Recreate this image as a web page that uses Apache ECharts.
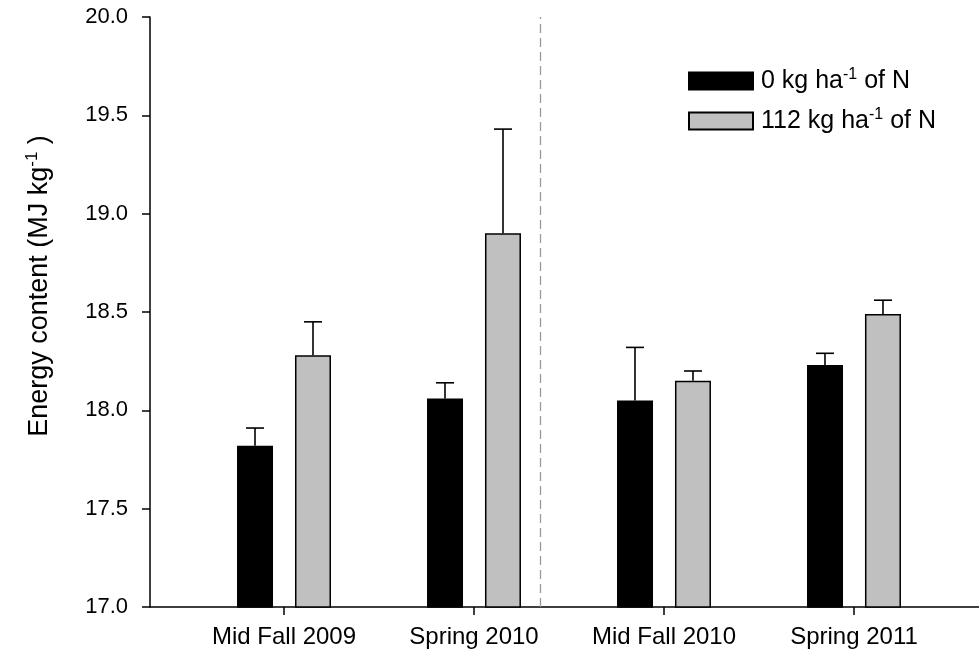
<!DOCTYPE html>
<html>
<head>
<meta charset="utf-8">
<script src="https://cdn.jsdelivr.net/npm/echarts@6/dist/echarts.min.js"></script>
<style>
  html, body { margin: 0; padding: 0; background: #fff; }
  #chart { width: 979px; height: 664px; }
</style>
</head>
<body>
<div id="chart"></div>
<script>
// data
const categories = ['Mid Fall 2009', 'Spring 2010', 'Mid Fall 2010', 'Spring 2011'];
const n0Means = [17.82, 18.06, 18.05, 18.23];
const n0Errors = [0.09, 0.08, 0.27, 0.06];
const n112Means = [18.28, 18.90, 18.15, 18.49];
const n112Errors = [0.17, 0.53, 0.05, 0.07];
const seriesNames = ['0 kg ha-1 of N', '112 kg ha-1 of N'];
const catPositions = [1, 2, 3, 4];
const dividerAt = 2.5;

const font = '"Liberation Sans", Arial, sans-serif';
const barW = 36;
const halfStep = 29; // distance from category centre to each bar centre

var myChart = echarts.init(document.getElementById('chart'));

function barData(vals) {
    return vals.map((v, i) => [catPositions[i], v]);
}
function errData(vals, errs) {
    return vals.map((v, i) => [catPositions[i], v, v + errs[i]]);
}
function errorBar(shift) {
    return function (params, api) {
        const base = api.coord([api.value(0), api.value(1)]);
        const top = api.coord([api.value(0), api.value(2)]);
        const x = base[0] + shift;
        const st = { stroke: '#000', lineWidth: 1.6 };
        return {
            type: 'group',
            children: [
                { type: 'line', shape: { x1: x, y1: base[1], x2: x, y2: top[1] }, style: st },
                { type: 'line', shape: { x1: x - 9, y1: top[1], x2: x + 9, y2: top[1] }, style: st }
            ]
        };
    };
}

const option = {
    animation: false,
    backgroundColor: '#fff',
    grid: { left: 150, right: 0, top: 17, bottom: 57 },
    legend: {
        orient: 'vertical',
        left: 683,
        top: 62,
        itemWidth: 64,
        itemHeight: 17,
        itemGap: 12,
        icon: 'rect',
        data: seriesNames,
        formatter: function (name) {
            return name.replace('ha-1', 'ha{sup|-1}');
        },
        textStyle: {
            fontFamily: font,
            fontSize: 25,
            color: '#000',
            lineHeight: 28,
            padding: [0, 0, 0, 3],
            rich: {
                sup: { fontFamily: font, fontSize: 16, verticalAlign: 'top', lineHeight: 28, padding: [0, 0, 10, 0] }
            }
        }
    },
    xAxis: {
        type: 'value',
        min: 0.2947,
        max: 4.658,
        splitLine: { show: false },
        axisLine: { show: true, lineStyle: { color: '#000', width: 1.5 } },
        axisTick: { show: true, customValues: catPositions, length: 8, lineStyle: { color: '#000', width: 1.5 } },
        axisLabel: {
            customValues: catPositions,
            formatter: v => categories[Math.round(v) - 1],
            fontFamily: font,
            fontSize: 24,
            color: '#000',
            margin: 18
        }
    },
    yAxis: {
        type: 'value',
        min: 17,
        max: 20,
        interval: 0.5,
        splitLine: { show: false },
        axisLine: { show: true, lineStyle: { color: '#000', width: 1.5 } },
        axisTick: { show: true, length: 8, lineStyle: { color: '#000', width: 1.5 } },
        axisLabel: {
            formatter: v => v.toFixed(1),
            fontFamily: font,
            fontSize: 22,
            color: '#000',
            margin: 22
        }
    },
    graphic: [
        {
            type: 'text',
            x: 40,
            y: 286,
            rotation: Math.PI / 2,
            style: {
                text: '{t|Energy content (MJ kg}{s|-1}{t| )}',
                align: 'center',
                verticalAlign: 'middle',
                rich: {
                    t: { fontFamily: font, fontSize: 27, fill: '#000', lineHeight: 32 },
                    s: { fontFamily: font, fontSize: 17, fill: '#000', verticalAlign: 'top', lineHeight: 32, padding: [0, 0, 12, 0] }
                }
            }
        }
    ],
    series: [
        {
            name: seriesNames[0],
            type: 'bar',
            data: barData(n0Means),
            barWidth: barW,
            barGap: '61%',
            itemStyle: { color: '#000', borderColor: '#000', borderWidth: 1.5 },
            markLine: {
                silent: true,
                symbol: 'none',
                label: { show: false },
                lineStyle: { color: '#999', type: [9, 5], width: 1.3 },
                data: [{ xAxis: dividerAt }]
            }
        },
        {
            name: seriesNames[1],
            type: 'bar',
            data: barData(n112Means),
            barWidth: barW,
            barGap: '61%',
            itemStyle: { color: '#c0c0c0', borderColor: '#000', borderWidth: 1.5 }
        },
        {
            type: 'custom',
            renderItem: errorBar(-halfStep),
            data: errData(n0Means, n0Errors),
            encode: { x: 0, y: 1 },
            z: 3
        },
        {
            type: 'custom',
            renderItem: errorBar(halfStep),
            data: errData(n112Means, n112Errors),
            encode: { x: 0, y: 1 },
            z: 3
        }
    ]
};

myChart.setOption(option);
</script>
</body>
</html>
